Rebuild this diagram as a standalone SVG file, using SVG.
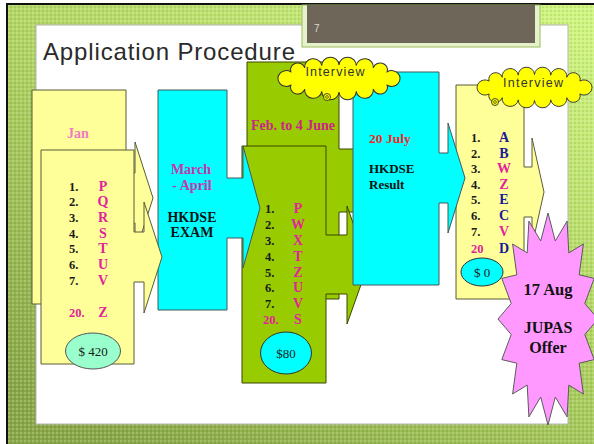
<svg xmlns="http://www.w3.org/2000/svg" xmlns:xlink="http://www.w3.org/1999/xlink" width="594" height="444" viewBox="0 0 594 444">
<defs>
<linearGradient id="bg" x1="0.9" y1="0" x2="0.2" y2="1">
<stop offset="0" stop-color="#cff47f"/>
<stop offset="0.45" stop-color="#b2d664"/>
<stop offset="1" stop-color="#8aa848"/>
</linearGradient>
<pattern id="tex" width="4" height="4" patternUnits="userSpaceOnUse">
<rect width="2" height="2" fill="#ffffff" opacity="0.18"/>
<rect x="2" y="2" width="2" height="2" fill="#000000" opacity="0.07"/>
</pattern>
<path id="cloud" d="M39.84 -6 A7 7 0 1 1 39.84 6 A1 1 0 0 1 28.32 9.46 A1 1 0 0 1 14.21 11.41 A1 1 0 0 1 0 12 A1 1 0 0 1 -14.21 11.41 A1 1 0 0 1 -28.32 9.46 A1 1 0 0 1 -39.84 6 A7 7 0 1 1 -39.84 -6 A1 1 0 0 1 -28.32 -9.46 A1 1 0 0 1 -14.21 -11.41 A1 1 0 0 1 0 -12 A1 1 0 0 1 14.21 -11.41 A1 1 0 0 1 28.32 -9.46 A1 1 0 0 1 39.84 -6 Z"/>
</defs>
<style>
.yel{fill:#ffff99;stroke:#5a5a3a;stroke-width:1}
.cy{fill:#00ffff;stroke:#44595a;stroke-width:1}
.gr{fill:#99cc00;stroke:#3a4400;stroke-width:1}
.cl{fill:#ffff00;stroke:#333333;stroke-width:0.85}
.t{font-family:"Liberation Serif","Times New Roman",serif;font-weight:bold}
.num{font-family:"Liberation Serif","Times New Roman",serif;font-weight:bold;font-size:12.5px;fill:#1a1a1a}
.let{font-family:"Liberation Serif","Times New Roman",serif;font-weight:bold;font-size:14px;text-anchor:middle}
.mg{fill:#e0249a}
.nv{fill:#1a1a99}
.money{font-family:"Liberation Serif","Times New Roman",serif;font-size:13px;fill:#1a1a1a;text-anchor:middle}
.iv{font-family:"Liberation Sans",Arial,sans-serif;font-size:12.5px;fill:#333333;text-anchor:middle}
</style>

<!-- background -->
<rect x="0" y="0" width="594" height="444" fill="#ffffff"/>
<rect x="7" y="4" width="587" height="440" fill="url(#bg)"/>
<rect x="7" y="4" width="587" height="440" fill="url(#tex)"/>
<rect x="6" y="3" width="588" height="2" fill="#111111"/>
<rect x="6" y="3" width="2" height="441" fill="#111111"/>
<rect x="36" y="25" width="532" height="399" fill="#ffffff" stroke="#b4b4b4" stroke-width="1"/>

<!-- top tab -->
<g id="tab">
<rect x="302" y="5" width="238" height="42" fill="#e6f2cc" stroke="#9cbc58" stroke-width="1"/>
<rect x="307" y="5" width="228" height="38" fill="#6e6658"/>
<text x="314" y="32" font-family="Liberation Sans,Arial,sans-serif" font-size="10" fill="#d8d8d8">7</text>
</g>

<text id="title" x="43" y="60" font-family="Liberation Sans,Arial,sans-serif" font-size="24" fill="#2a2a2a" textLength="252" lengthAdjust="spacing">Application Procedure</text>

<!-- Green: Feb. to 4 June -->
<g id="node-feb">
<polygon class="gr" points="247,62 339,62 339,149 358,149 358,120 380,180 358,240 358,212 339,212 339,299 247,299"/>
<text class="t" x="293" y="130" font-size="14" fill="#cc2288" text-anchor="middle">Feb. to 4 June</text>
</g>
<g id="node-second-round">
<polygon class="gr" points="242,146 326,146 326,235 347,235 347,206 368,265 347,324 347,294 326,294 326,383 242,383"/>
<text class="num" x="265" y="213">1.</text>
<text class="num" x="265" y="229">2.</text>
<text class="num" x="265" y="245">3.</text>
<text class="num" x="265" y="261">4.</text>
<text class="num" x="265" y="277">5.</text>
<text class="num" x="265" y="292">6.</text>
<text class="num" x="265" y="308">7.</text>
<text class="num mg" x="263" y="324">20.</text>
<text class="let mg" x="298" y="213">P</text>
<text class="let mg" x="298" y="229">W</text>
<text class="let mg" x="298" y="245">X</text>
<text class="let mg" x="298" y="261">T</text>
<text class="let mg" x="298" y="277">Z</text>
<text class="let mg" x="298" y="292">U</text>
<text class="let mg" x="298" y="308">V</text>
<text class="let mg" x="298" y="324">S</text>
<ellipse cx="286" cy="353" rx="25.5" ry="21" fill="#00ffff" stroke="#333333" stroke-width="1"/>
<text class="money" x="286" y="358">$80</text>
</g>

<!-- Cyan: March - April -->
<g id="node-exam">
<polygon class="cy" points="158,90 227,90 227,178 243,178 243,146 260,208 243,268 243,238 227,238 227,310 158,310"/>
<text class="t" x="191" y="174" font-size="14" fill="#cc33aa" text-anchor="middle">March</text>
<text class="t" x="192" y="190" font-size="14" fill="#cc33aa" text-anchor="middle">- April</text>
<text class="t" x="192" y="222" font-size="14" fill="#111111" text-anchor="middle">HKDSE</text>
<text class="t" x="192" y="237" font-size="14" fill="#111111" text-anchor="middle">EXAM</text>
</g>

<!-- Yellow left: Jan -->
<g id="node-jan">
<polygon class="yel" points="32,90 126,90 126,173 135,173 135,142 153,198 135,254 135,223 126,223 126,304 32,304"/>
<text class="t" x="78" y="138" font-size="14" fill="#f07ac4" text-anchor="middle">Jan</text>
</g>
<g id="node-first-choice">
<polygon class="yel" points="41,150 134,150 134,232 144,232 144,202 162,257 144,313 144,282 134,282 134,364 41,364"/>
<text class="num" x="69" y="191">1.</text>
<text class="num" x="69" y="206">2.</text>
<text class="num" x="69" y="222">3.</text>
<text class="num" x="69" y="238">4.</text>
<text class="num" x="69" y="253">5.</text>
<text class="num" x="69" y="269">6.</text>
<text class="num" x="69" y="285">7.</text>
<text class="let mg" x="103" y="191">P</text>
<text class="let mg" x="103" y="206">Q</text>
<text class="let mg" x="103" y="222">R</text>
<text class="let mg" x="103" y="238">S</text>
<text class="let mg" x="103" y="253">T</text>
<text class="let mg" x="103" y="269">U</text>
<text class="let mg" x="103" y="285">V</text>
<text class="num mg" x="69" y="317" font-size="14">20.</text>
<text class="let mg" x="103" y="317">Z</text>
<ellipse cx="93" cy="351" rx="27.5" ry="18" fill="#99ffcc" stroke="#555555" stroke-width="1"/>
<text class="money" x="93" y="356">$ 420</text>
</g>

<!-- Yellow right -->
<g id="node-final">
<polygon class="yel" points="456,85 524,85 524,167 532,167 532,138 544,192 532,246 532,217 524,217 524,299 456,299"/>
<text class="num" x="471" y="142">1.</text>
<text class="num" x="471" y="158">2.</text>
<text class="num" x="471" y="173">3.</text>
<text class="num" x="471" y="189">4.</text>
<text class="num" x="471" y="204">5.</text>
<text class="num" x="471" y="220">6.</text>
<text class="num" x="471" y="236">7.</text>
<text class="num mg" x="471" y="253" font-size="13.5">20</text>
<text class="let nv" x="504" y="142">A</text>
<text class="let nv" x="504" y="158">B</text>
<text class="let mg" x="504" y="173">W</text>
<text class="let mg" x="504" y="189">Z</text>
<text class="let nv" x="504" y="204">E</text>
<text class="let nv" x="504" y="220">C</text>
<text class="let mg" x="504" y="236">V</text>
<text class="let nv" x="504" y="253">D</text>
<ellipse cx="482" cy="272" rx="21" ry="14" fill="#00ffff" stroke="#333333" stroke-width="1"/>
<text class="money" x="482" y="277">$ 0</text>
</g>

<!-- Cyan: 20 July -->
<g id="node-result">
<polygon class="cy" points="353,72 439,72 439,153 448,153 448,123 465,178 448,233 448,203 439,203 439,285 353,285"/>
<text class="t" x="369" y="143" font-size="13.5" fill="#f02828">20 July</text>
<text class="t" x="369" y="173" font-size="13" fill="#111111">HKDSE</text>
<text class="t" x="369" y="189" font-size="13" fill="#111111">Result</text>
</g>

<!-- Star: 17 Aug JUPAS Offer -->
<g id="node-offer">
<polygon points="548,213 555.3,241 567.1,221.1 568.8,252.9 583.4,244 579.2,274.8 594.2,278.4 584.8,303.5 598,319 584.8,334.5 594.2,359.6 579.2,363.2 583.4,394 568.8,385.1 567.1,416.9 555.3,397 548,425 540.7,397 528.9,416.9 527.2,385.1 512.6,394 516.8,363.2 501.8,359.6 511.2,334.5 498,319 511.2,303.5 501.8,278.4 516.8,274.8 512.6,244 527.2,252.9 528.9,221.1 540.7,241" fill="#ff99ff" stroke="#5a5a5a" stroke-width="1"/>
<text class="t" x="548" y="295" font-size="16.5" fill="#111111" text-anchor="middle">17 Aug</text>
<text class="t" x="548" y="333" font-size="16" fill="#111111" text-anchor="middle">JUPAS</text>
<text class="t" x="548" y="353" font-size="16" fill="#111111" text-anchor="middle">Offer</text>
</g>

<!-- Interview clouds -->
<g id="node-interview-1">
<use href="#cloud" xlink:href="#cloud" class="cl" transform="translate(339,78.5) scale(1.21,1.13)"/>
<circle cx="327" cy="97" r="3.5" fill="#ffff00" stroke="#333333" stroke-width="0.9"/>
<circle cx="327" cy="97" r="1.4" fill="none" stroke="#333333" stroke-width="0.7"/>
<text class="iv" x="335" y="76" textLength="59" lengthAdjust="spacing">Interview</text>
</g>
<g id="node-interview-2">
<use href="#cloud" xlink:href="#cloud" class="cl" transform="translate(534.5,87.5) scale(1.14,1.08)"/>
<circle cx="495" cy="102" r="3.5" fill="#ffff00" stroke="#333333" stroke-width="0.9"/>
<circle cx="495" cy="102" r="1.4" fill="none" stroke="#333333" stroke-width="0.7"/>
<text class="iv" x="533" y="87" textLength="60" lengthAdjust="spacing">Interview</text>
</g>
</svg>
